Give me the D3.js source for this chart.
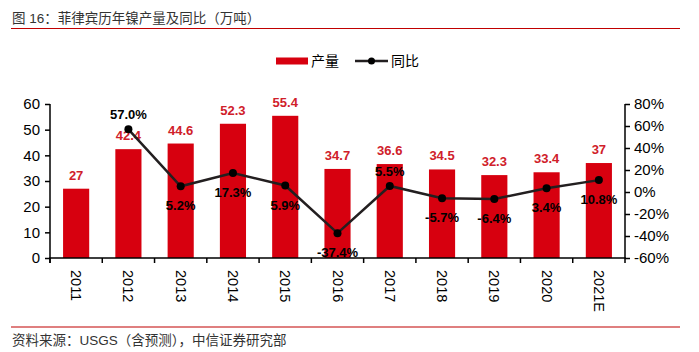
<!DOCTYPE html>
<html>
<head>
<meta charset="utf-8">
<script src="https://cdn.jsdelivr.net/npm/d3@7"></script>
<style>
  body { margin: 0; background: #fff; }
  text { font-family: "Liberation Sans", Arial, "Noto Sans CJK SC", sans-serif; }
  .axis path, .axis line { stroke: #000; stroke-width: 1.5; }
  .axis text { font-size: 15px; fill: #000; }
</style>
</head>
<body>
<div id="chart"></div>
<script>
var years = ["2011", "2012", "2013", "2014", "2015", "2016", "2017", "2018", "2019", "2020", "2021E"];
var output = [27, 42.4, 44.6, 52.3, 55.4, 34.7, 36.6, 34.5, 32.3, 33.4, 37];
var growth = [null, 57.0, 5.2, 17.3, 5.9, -37.4, 5.5, -5.7, -6.4, 3.4, 10.8];
var growthAbove = [false, true, false, false, false, false, true, false, false, false, false];
var leftTicks = [0, 10, 20, 30, 40, 50, 60];
var rightTicks = [-60, -40, -20, 0, 20, 40, 60, 80];

function init(){
    var w = 699;
    var h = 352;
    var left = 50, right = 625, top = 104, bottom = 258;
    var red = "#d7000f";

    var svg = d3.select("#chart")
                .append("svg")
                .attr("width", w)
                .attr("height", h);

    // title and frame lines
    svg.append("text")
        .attr("x", 12).attr("y", 23)
        .attr("font-size", "13.5px")
        .attr("fill", "#333")
        .text("图 16：菲律宾历年镍产量及同比（万吨）");
    svg.append("line")
        .attr("x1", 11).attr("x2", 680).attr("y1", 28.5).attr("y2", 28.5)
        .attr("stroke", "#c00000").attr("stroke-width", 1.2);
    svg.append("line")
        .attr("x1", 11).attr("x2", 680).attr("y1", 327).attr("y2", 327)
        .attr("stroke", "#c00000").attr("stroke-width", 1.2);
    svg.append("text")
        .attr("x", 12).attr("y", 345)
        .attr("font-size", "13.5px")
        .attr("fill", "#333")
        .text("资料来源：USGS（含预测），中信证券研究部");

    var xScale = d3.scaleBand()
                .domain(years)
                .range([left, right])
                .paddingInner(0.5)
                .paddingOuter(0.25);
    var xOuter = d3.scaleBand().domain(years).range([left, right]);

    var yScale = d3.scaleLinear().domain([0, 60]).range([bottom, top]);
    var y2Scale = d3.scaleLinear().domain([-60, 80]).range([bottom, top]);

    // bars
    svg.selectAll(".bar")
        .data(output)
        .enter()
        .append("rect")
        .attr("x", function(d, i) { return xScale(years[i]); })
        .attr("y", function(d) { return yScale(d); })
        .attr("width", xScale.bandwidth())
        .attr("height", function(d) { return bottom - yScale(d); })
        .attr("fill", red);

    svg.selectAll(".barLabel")
        .data(output)
        .enter()
        .append("text")
        .attr("x", function(d, i) { return xScale(years[i]) + xScale.bandwidth() / 2; })
        .attr("y", function(d) { return yScale(d) - 9; })
        .attr("text-anchor", "middle")
        .attr("font-size", "13px")
        .attr("font-weight", "bold")
        .attr("fill", "#d0202a")
        .text(function(d) { return d; });

    // axes
    var xAxis = d3.axisBottom(xOuter).tickSize(5).tickFormat("");
    var gx = svg.append("g")
        .attr("class", "axis")
        .attr("transform", "translate(0," + bottom + ")")
        .call(xAxis);
    gx.select(".domain").attr("d", "M" + left + ",5V0H" + right + "V5");
    gx.selectAll(".tick line").attr("transform", "translate(" + (-xOuter.bandwidth() / 2) + ",0)");

    svg.selectAll(".yearLabel")
        .data(years)
        .enter()
        .append("text")
        .attr("transform", function(d) {
            return "translate(" + (xOuter(d) + xOuter.bandwidth() / 2 - 5) + "," + (bottom + 12) + ") rotate(90)";
        })
        .attr("font-size", "14.5px")
        .attr("fill", "#000")
        .text(function(d) { return d; });

    var yAxis = d3.axisLeft(yScale).tickValues(leftTicks).tickSize(5).tickPadding(5);
    var gy = svg.append("g")
        .attr("class", "axis")
        .attr("transform", "translate(" + left + ",0)")
        .call(yAxis);
    gy.select(".domain").attr("d", "M0," + top + "V" + bottom);

    var y2Axis = d3.axisRight(y2Scale).tickValues(rightTicks).tickSize(5).tickPadding(4)
        .tickFormat(function(d) { return d + "%"; });
    var gy2 = svg.append("g")
        .attr("class", "axis")
        .attr("transform", "translate(" + right + ",0)")
        .call(y2Axis);
    gy2.select(".domain").attr("d", "M0," + top + "V" + bottom);

    // growth line
    var pts = growth.map(function(d, i) { return { year: years[i], v: d, above: growthAbove[i] }; })
                    .filter(function(d) { return d.v !== null; });
    var line = d3.line()
        .x(function(d) { return xOuter(d.year) + xOuter.bandwidth() / 2; })
        .y(function(d) { return y2Scale(d.v); });

    svg.append("path")
        .datum(pts)
        .attr("d", line)
        .attr("fill", "none")
        .attr("stroke", "#231f20")
        .attr("stroke-width", 2.5);

    svg.selectAll(".dot")
        .data(pts)
        .enter()
        .append("circle")
        .attr("cx", function(d) { return xOuter(d.year) + xOuter.bandwidth() / 2; })
        .attr("cy", function(d) { return y2Scale(d.v); })
        .attr("r", 4)
        .attr("fill", "#000");

    svg.selectAll(".growthLabel")
        .data(pts)
        .enter()
        .append("text")
        .attr("x", function(d) { return xOuter(d.year) + xOuter.bandwidth() / 2; })
        .attr("y", function(d) { return y2Scale(d.v) + (d.above ? -10 : 24); })
        .attr("text-anchor", "middle")
        .attr("font-size", "13px")
        .attr("font-weight", "bold")
        .attr("fill", "#000")
        .text(function(d) { return d.v.toFixed(1) + "%"; });

    // legend
    var lg = svg.append("g");
    lg.append("rect")
        .attr("x", 276).attr("y", 57.5).attr("width", 32).attr("height", 7)
        .attr("fill", red);
    lg.append("text")
        .attr("x", 311).attr("y", 66)
        .attr("font-size", "14px").attr("fill", "#000")
        .text("产量");
    lg.append("line")
        .attr("x1", 355).attr("x2", 388).attr("y1", 61).attr("y2", 61)
        .attr("stroke", "#231f20").attr("stroke-width", 2.5);
    lg.append("circle")
        .attr("cx", 371.5).attr("cy", 61).attr("r", 3.5).attr("fill", "#000");
    lg.append("text")
        .attr("x", 391).attr("y", 66)
        .attr("font-size", "14px").attr("fill", "#000")
        .text("同比");
}
window.onload = init;
</script>
</body>
</html>
